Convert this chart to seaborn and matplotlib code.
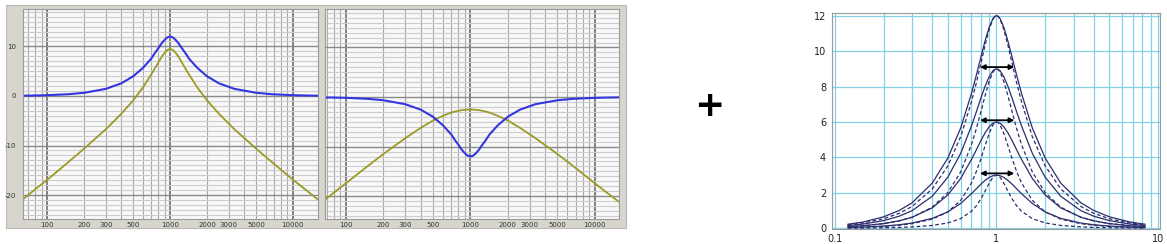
import matplotlib
matplotlib.use("Agg")
import matplotlib.pyplot as plt
import seaborn as sns
from matplotlib.patches import Rectangle
from matplotlib.ticker import FixedLocator, FuncFormatter, NullFormatter

# ---------------- data ----------------
freq_hz = [63, 80, 100, 150, 200, 300, 400, 500, 600, 700, 750, 800, 850, 900, 950, 1000,
           1053, 1111, 1176, 1250, 1333, 1429, 1667, 2000, 2500, 3333, 5000, 6667, 10000, 12500, 16000]
boost_blue = [0.06, 0.10, 0.16, 0.36, 0.65, 1.44, 2.55, 3.97, 5.66, 7.5, 8.64, 9.6, 10.58, 11.3, 11.83, 12.0,
              11.83, 11.3, 10.58, 9.6, 8.64, 7.5, 5.66, 3.97, 2.55, 1.44, 0.65, 0.36, 0.16, 0.10, 0.06]
boost_olive = [-20.9, -18.8, -16.9, -13.25, -10.6, -6.7, -3.6, -0.9, 1.7, 4.3, 5.52, 6.7, 7.83, 8.7, 9.3, 9.5,
               9.3, 8.7, 7.83, 6.7, 5.52, 4.3, 1.7, -0.9, -3.6, -6.7, -10.6, -13.25, -16.9, -18.8, -20.9]
cut_blue = [-0.06, -0.10, -0.16, -0.36, -0.65, -1.44, -2.55, -3.97, -5.66, -7.5, -8.64, -9.6, -10.58, -11.3,
            -11.83, -12.0, -11.83, -11.3, -10.58, -9.6, -8.64, -7.5, -5.66, -3.97, -2.55, -1.44, -0.65,
            -0.36, -0.16, -0.10, -0.06]
cut_olive = [-21.35, -19.3, -17.4, -13.9, -11.5, -8.3, -6.2, -4.75, -3.8, -3.15, -2.93, -2.8, -2.64, -2.6,
             -2.52, -2.5, -2.52, -2.6, -2.64, -2.8, -2.93, -3.15, -3.8, -4.75, -6.2, -8.3, -11.5, -13.9,
             -17.4, -19.3, -21.35]
freq_labels = [100, 200, 300, 500, 1000, 2000, 3000, 5000, 10000]
db_labels = [-20, -10, 0, 10]

ratio = [0.12, 0.15, 0.2, 0.25, 0.3, 0.4, 0.5, 0.6, 0.7, 0.75, 0.8, 0.85, 0.9, 0.95, 0.975, 1.0,
         1.026, 1.053, 1.111, 1.176, 1.25, 1.333, 1.429, 1.667, 2.0, 2.5, 3.333, 4.0, 5.0, 6.667, 8.333]
solid_12 = [0.23, 0.36, 0.65, 1.01, 1.44, 2.55, 3.97, 5.66, 7.61, 8.64, 9.65, 10.58, 11.34, 11.83, 11.96, 12.0,
            11.96, 11.83, 11.34, 10.58, 9.65, 8.64, 7.61, 5.66, 3.97, 2.55, 1.44, 1.01, 0.65, 0.36, 0.23]
solid_9 = [0.155, 0.243, 0.435, 0.685, 0.996, 1.81, 2.89, 4.23, 5.78, 6.57, 7.34, 8.02, 8.55, 8.89, 8.97, 9.0,
           8.97, 8.89, 8.55, 8.02, 7.34, 6.57, 5.78, 4.23, 2.89, 1.81, 0.996, 0.685, 0.435, 0.243, 0.155]
solid_6 = [0.094, 0.148, 0.267, 0.424, 0.622, 1.154, 1.884, 2.814, 3.888, 4.43, 4.946, 5.39, 5.726, 5.933, 5.98,
           6.0, 5.98, 5.933, 5.726, 5.39, 4.946, 4.43, 3.888, 2.814, 1.884, 1.154, 0.622, 0.424, 0.267, 0.148,
           0.094]
solid_3 = [0.045, 0.070, 0.127, 0.202, 0.298, 0.560, 0.928, 1.404, 1.956, 2.23, 2.489, 2.71, 2.870, 2.968, 2.99,
           3.0, 2.99, 2.968, 2.870, 2.71, 2.489, 2.23, 1.956, 1.404, 0.928, 0.560, 0.298, 0.202, 0.127, 0.070,
           0.045]
dashed_12 = [0.193, 0.303, 0.54, 0.849, 1.23, 2.22, 3.53, 5.17, 7.14, 8.21, 9.30, 10.34, 11.21, 11.80, 11.95,
             12.0, 11.95, 11.80, 11.21, 10.34, 9.30, 8.21, 7.14, 5.17, 3.53, 2.22, 1.23, 0.849, 0.54, 0.303, 0.193]
dashed_9 = [0.093, 0.146, 0.264, 0.422, 0.625, 1.191, 2.021, 3.184, 4.724, 5.62, 6.565, 7.49, 8.278, 8.815, 8.95,
            9.0, 8.95, 8.815, 8.278, 7.49, 6.565, 5.62, 4.724, 3.184, 2.021, 1.191, 0.625, 0.422, 0.264, 0.146,
            0.093]
dashed_6 = [0.037, 0.059, 0.108, 0.174, 0.262, 0.518, 0.929, 1.577, 2.561, 3.20, 3.919, 4.67, 5.351, 5.831, 5.96,
            6.0, 5.96, 5.831, 5.351, 4.67, 3.919, 3.20, 2.561, 1.577, 0.929, 0.518, 0.262, 0.174, 0.108, 0.059,
            0.037]
dashed_3 = [0.011, 0.018, 0.033, 0.053, 0.081, 0.164, 0.304, 0.546, 0.965, 1.27, 1.656, 2.10, 2.541, 2.877, 2.97,
            3.0, 2.97, 2.877, 2.541, 2.10, 1.656, 1.27, 0.965, 0.546, 0.304, 0.164, 0.081, 0.053, 0.033, 0.018,
            0.011]
arrow_levels = [9.1, 6.1, 3.1]
arrow_lo, arrow_hi = 0.79, 1.29
ratio_labels = [0.1, 1, 10]
gain_labels = [0, 2, 4, 6, 8, 10, 12]

# ---------------- figure ----------------
sns.set_theme(style="white")
plt.rcParams['font.family'] = ['DejaVu Sans']
W, H = 1167, 244
fig = plt.figure(figsize=(W / 100, H / 100), dpi=100)
fig.patch.set_facecolor('white')


def px_axes(l, t, r, b):
    return fig.add_axes([l / W, 1 - b / H, (r - l) / W, (b - t) / H])


# gray window frame behind the two analyser panels
frame = Rectangle((6 / W, 1 - 228 / H), (626 - 6) / W, (228 - 5) / H,
                  transform=fig.transFigure, facecolor='#d8d5cf',
                  edgecolor='#bdbab4', lw=0.8, zorder=-5)
fig.patches.append(frame)

BLUE = '#3535e0'
OLIVE = '#9c9a26'


def style_eq(ax, xlim, ylim, ylabels):
    ax.set_facecolor('#f8f8f8')
    ax.set_xscale('log')
    ax.set_xlim(*xlim)
    ax.set_ylim(*ylim)
    majors = [100, 1000, 10000]
    minors = [m * d for d in (10, 100, 1000, 10000) for m in range(2, 10)
              if xlim[0] <= m * d <= xlim[1]]
    ax.xaxis.set_major_locator(FixedLocator(majors))
    ax.xaxis.set_minor_locator(FixedLocator(minors))
    ax.xaxis.set_major_formatter(FuncFormatter(lambda v, p: f"{int(round(v))}"))
    ax.xaxis.set_minor_formatter(FuncFormatter(
        lambda v, p: f"{int(round(v))}" if int(round(v)) in freq_labels else ""))
    ax.yaxis.set_major_locator(FixedLocator(db_labels))
    ax.yaxis.set_minor_locator(FixedLocator(list(range(-24, 18))))
    if ylabels:
        ax.yaxis.set_major_formatter(FuncFormatter(lambda v, p: f"{int(v)}"))
    else:
        ax.yaxis.set_major_formatter(NullFormatter())
    ax.yaxis.set_minor_formatter(NullFormatter())
    ax.grid(True, which='minor', axis='y', color='#cdcdcd', lw=0.8)
    ax.grid(True, which='major', axis='y', color='#8a8a8a', lw=1.0)
    ax.grid(True, which='minor', axis='x', color='#a9a9a9', lw=0.8)
    ax.grid(True, which='major', axis='x', color='#767676', lw=1.3)
    ax.set_axisbelow(True)
    ax.tick_params(which='both', length=0, labelsize=5, colors='#333333')
    ax.tick_params(axis='x', which='both', pad=2)
    ax.tick_params(axis='y', which='both', pad=5)
    for s in ax.spines.values():
        s.set_color('#9a9a9a')
        s.set_linewidth(0.8)
    ax.set_xlabel('')
    ax.set_ylabel('')


ax1 = px_axes(22.7, 9.3, 318.3, 219.3)
sns.lineplot(x=freq_hz, y=boost_olive, ax=ax1, color=OLIVE, linewidth=1.3)
sns.lineplot(x=freq_hz, y=boost_blue, ax=ax1, color=BLUE, linewidth=1.5)
style_eq(ax1, (63, 16100), (-24.9, 17.5), True)

ax2 = px_axes(325, 9.3, 619.3, 219.0)
sns.lineplot(x=freq_hz, y=cut_olive, ax=ax2, color=OLIVE, linewidth=1.3)
sns.lineplot(x=freq_hz, y=cut_blue, ax=ax2, color=BLUE, linewidth=1.5)
style_eq(ax2, (68, 15700), (-24.6, 17.7), False)

# plus sign
fig.text(709 / W, 1 - 106 / H, '+', fontsize=26, fontweight='bold',
         ha='center', va='center', color='black')

# ---------------- right panel ----------------
ax3 = px_axes(831.7, 12.7, 1160, 228.5)
NAVY = '#2d2d6e'
for ys in (solid_12, solid_9, solid_6, solid_3):
    sns.lineplot(x=ratio, y=ys, ax=ax3, color=NAVY, linewidth=0.9)
for ys in (dashed_12, dashed_9, dashed_6, dashed_3):
    sns.lineplot(x=ratio, y=ys, ax=ax3, color=NAVY, linewidth=0.9, linestyle=(0, (3, 2)))
ax3.set_xscale('log')
ax3.set_xlim(0.0954, 10.29)
ax3.set_ylim(-0.01, 12.17)
ax3.xaxis.set_major_locator(FixedLocator(ratio_labels))
ax3.xaxis.set_minor_locator(FixedLocator([m * d for d in (0.1, 1) for m in range(2, 10)]))
ax3.xaxis.set_major_formatter(FuncFormatter(lambda v, p: f"{v:g}"))
ax3.xaxis.set_minor_formatter(NullFormatter())
ax3.yaxis.set_major_locator(FixedLocator(gain_labels))
ax3.yaxis.set_major_formatter(FuncFormatter(lambda v, p: f"{int(v)}"))
ax3.grid(True, which='both', color='#86d0e6', lw=0.9)
ax3.set_axisbelow(True)
ax3.tick_params(which='both', length=0, labelsize=7, colors='#222222')
ax3.tick_params(axis='x', pad=4)
ax3.tick_params(axis='y', pad=4)
for s in ax3.spines.values():
    s.set_color('#9a9a9a')
    s.set_linewidth(0.8)
ax3.set_xlabel('')
ax3.set_ylabel('')
for lvl in arrow_levels:
    ax3.annotate('', xy=(arrow_hi, lvl), xytext=(arrow_lo, lvl),
                 arrowprops=dict(arrowstyle='<|-|>', color='black', lw=1.3,
                                 mutation_scale=7, shrinkA=0, shrinkB=0))

fig.savefig('out.png', dpi=100, facecolor='white')
